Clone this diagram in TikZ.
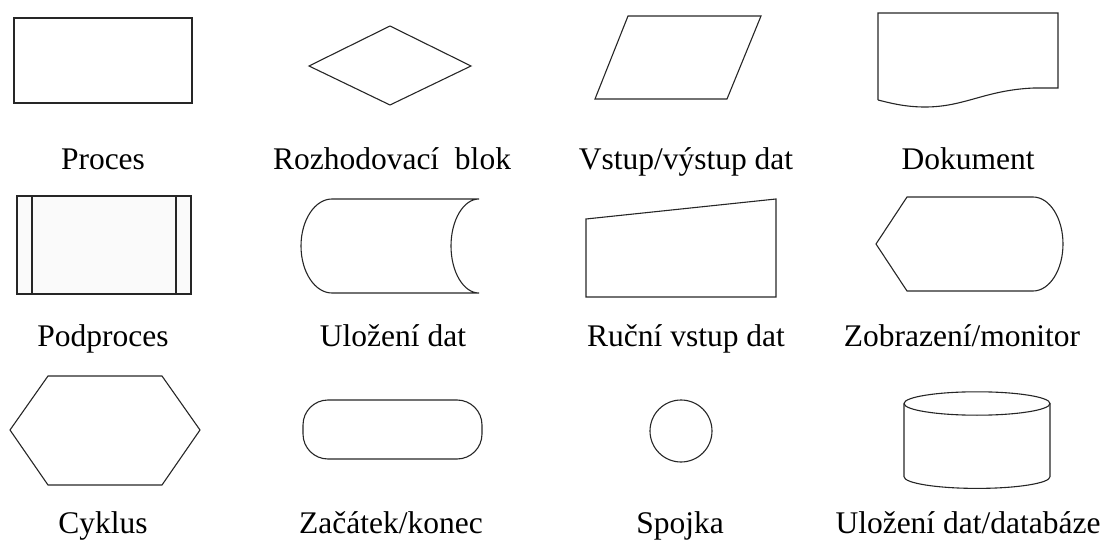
\documentclass[tikz,border=0pt]{standalone}
\usepackage{fontspec}
\setmainfont{Liberation Serif}
\begin{document}
\begin{tikzpicture}[x=1pt, y=-1pt,
    symbol/.style={draw=black!85, line width=1.1pt, line join=miter},
    caption/.style={font=\fontsize{31.5}{36}\selectfont, anchor=base, inner sep=0pt}
  ]
  \useasboundingbox (0,0) rectangle (1104,540);

  % Row 1 -- process, decision, data i/o, document
  \draw[symbol] (14,18) rectangle (192,103);
  \draw[symbol] (309,66) -- (390,26) -- (471,66) -- (390,105) -- cycle;
  \draw[symbol] (628,16) -- (761,16) -- (727,99) -- (595,99) -- cycle;
  \draw[symbol] (878,100) -- (878,13) -- (1058,13) -- (1058,88) -- (1034,88)
    .. controls (985,90) and (965,107) .. (925,107)
    .. controls (905,107) and (890,103) .. (878,100);

  % Row 2 -- subprocess, stored data, manual input, display
  \draw[symbol, fill=black!2] (17,196) rectangle (191,294);
  \draw[symbol] (32,196) -- (32,294);
  \draw[symbol] (176,196) -- (176,294);
  \draw[symbol] (332,199) -- (479,199) arc(-90:-270:28 and 47)
    -- (332,293) arc(90:270:31 and 47) -- cycle;
  \draw[symbol] (586,219) -- (776,199) -- (776,297) -- (586,297) -- cycle;
  \draw[symbol] (876,244) -- (907,197) -- (1033,197) arc(-90:90:30 and 47)
    -- (907,291) -- cycle;

  % Row 3 -- loop, terminator, connector, database
  \draw[symbol] (10,430) -- (48,376) -- (162,376) -- (200,430) -- (162,485)
    -- (48,485) -- cycle;
  \draw[symbol, rounded corners=25] (303,400) rectangle (482,459);
  \draw[symbol] (681,431) circle (31);
  \draw[symbol] (977,403.5) ellipse (73 and 11.7);
  \draw[symbol] (904,403.5) -- (904,476.7) arc(180:0:73 and 11.7) -- (1050,403.5);

  % Captions
  \foreach \cx/\cy/\cname/\ctext in {
      103/170/proces/Proces, 392/170/rozhod/Rozhodovací~~blok,
      686/170/vstup/{Vstup/výstup dat}, 968/170/dokument/Dokument,
      103/347/podproces/Podproces, 393/347/ulozeni/Uložení dat,
      686/347/rucni/Ruční vstup dat, 962/347/monitor/{Zobrazení/monitor},
      103/533/cyklus/Cyklus, 391/533/zacatek/{Začátek/konec},
      680/533/spojka/Spojka, 968/533/databaze/{Uložení dat/databáze}} {
    \node[caption] (\cname) at (\cx,\cy) {\ctext};
  }

\end{tikzpicture}
\end{document}
